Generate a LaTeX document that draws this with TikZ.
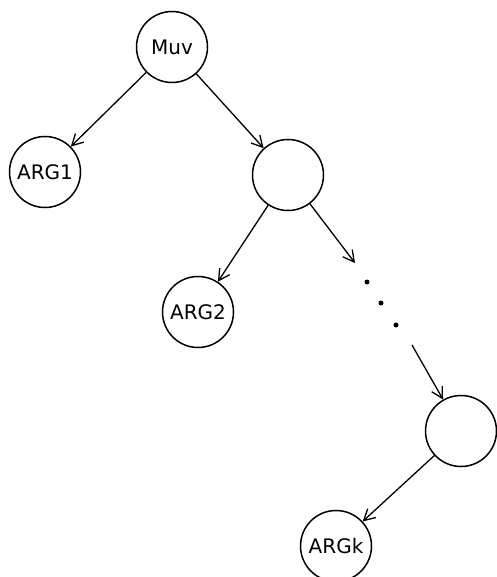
\documentclass[tikz,border=0pt]{standalone}
\usepackage{fontspec}
\setmainfont{DejaVu Sans}
\usetikzlibrary{arrows.meta}
\begin{document}
\begin{tikzpicture}[x=1pt,y=-1pt,
  treenode/.style={circle,draw,line width=1.5pt,minimum size=71pt,inner sep=0pt,
    font=\fontsize{20}{20}\selectfont},
  edge/.style={line width=1.3pt,-{Straight Barb[length=11pt,width=12pt,line width=1.3pt]}},
  dotmark/.style={circle,fill,inner sep=0pt,minimum size=5pt}]
  \useasboundingbox (0,0) rectangle (496,577);
  % tree nodes
  \node[treenode] (muv)  at (172,47)  {Muv};
  \node[treenode] (arg1) at (45,172)  {ARG1};
  \node[treenode] (n1)   at (288,175) {};
  \node[treenode] (arg2) at (198,312) {ARG2};
  \node[treenode] (n2)   at (461,431) {};
  \node[treenode] (argk) at (336,546) {ARGk};
  % elided part of the spine
  \coordinate (gapin)  at (355,263);
  \coordinate (gapout) at (412,345);
  \node[dotmark] (d1) at (367,282) {};
  \node[dotmark] (d2) at (381,303) {};
  \node[dotmark] (d3) at (396,325) {};
  % edges
  \draw[edge] (muv) -- (arg1);
  \draw[edge] (muv) -- (n1);
  \draw[edge] (n1) -- (arg2);
  \draw[edge] (n1) -- (gapin);
  \draw[edge] (gapout) -- (n2);
  \draw[edge] (n2) -- (argk);
\end{tikzpicture}
\end{document}
